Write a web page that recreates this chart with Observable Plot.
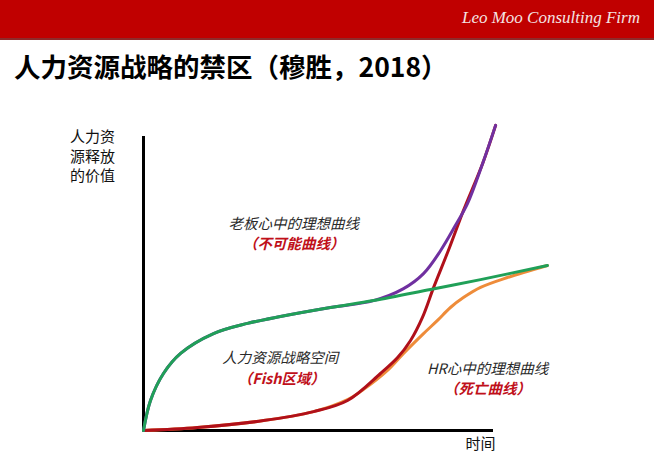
<!DOCTYPE html>
<html><head><meta charset="utf-8">
<script src="https://cdn.jsdelivr.net/npm/d3@7"></script>
<script src="https://cdn.jsdelivr.net/npm/@observablehq/plot@0.6"></script>
<style>
body{margin:0;background:#fff;width:654px;height:466px;overflow:hidden;font-family:"Noto Sans CJK SC",sans-serif;}
#bar{height:38px;background:#c00000;border-bottom:2px solid #8e2a2a;position:relative;}
#firm{position:absolute;right:14px;top:8px;font-family:"Liberation Serif",serif;font-style:italic;font-size:17px;color:#f4e4e4;}
#title{height:55px;font-size:26.5px;font-weight:bold;line-height:51px;padding-left:14px;color:#000;white-space:nowrap;}
#chart svg{display:block;}
</style>
</head>
<body>
<div id="bar"><div id="firm">Leo Moo Consulting Firm</div></div>
<div id="title">人力资源战略的禁区（穆胜，2018）</div>
<div id="chart"></div>
<script>
// Curves (time, value)
const greenT  = [0,0.2,0.57,1.06,2.0,2.97,3.91,5.34,6.57,8.2,9.63,11.54];
const greenV  = [0,1.0,1.9,2.57,3.23,3.57,3.8,4.1,4.33,4.7,5.03,5.5];
const purpleT = [0,0.2,0.57,1.06,2.0,2.97,3.91,5.34,6.57,7.43,8.0,8.49,8.91,9.26,9.69,10.06];
const purpleV = [0,1.0,1.9,2.57,3.23,3.57,3.8,4.1,4.33,4.73,5.23,6.0,6.83,7.57,8.9,10.17];
const redT    = [0,1.54,3.43,4.86,5.83,6.77,7.26,7.63,7.97,8.29,8.71,9.14,9.69,10.06];
const redV    = [0,0.1,0.33,0.63,1.0,1.9,2.43,3.0,3.77,4.77,6.0,7.33,8.9,10.17];
const orangeT = [0,1.54,3.43,4.86,5.83,6.29,6.97,7.43,8.0,8.4,8.77,9.14,9.63,10.4,11.54];
const orangeV = [0,0.1,0.33,0.63,1.03,1.37,2.0,2.57,3.23,3.67,4.1,4.43,4.77,5.1,5.5];

const yLabel = "人力资\n源释放\n的价值";
const xLabel = "时间";
const bossLabel = ["老板心中的理想曲线", "（不可能曲线）"];
const fishLabel = ["人力资源战略空间", "（Fish区域）"];
const hrLabel = ["HR心中的理想曲线", "（死亡曲线）"];

const toRows = (T, V) => T.map((t, i) => ({t, v: V[i]}));
const lineOpts = c => ({x: "t", y: "v", stroke: c, strokeWidth: 3, curve: "catmull-rom", strokeLinecap: "round"});
const note = (s, x, y, red) => Plot.text([s], {x: () => x, y: () => y, text: d => d, fontSize: 14.5,
  fontStyle: "italic", fontWeight: red ? "bold" : "normal", fill: red ? "#c0101a" : "#2a2a2a"});

const chart = Plot.plot({
  width: 654, height: 371,
  marginLeft: 143, marginRight: 161, marginTop: 35, marginBottom: 36,
  x: {domain: [0, 10], axis: null},
  y: {domain: [0, 10], axis: null},
  style: {fontFamily: '"Noto Sans CJK SC", sans-serif', background: "transparent"},
  marks: [
    Plot.ruleX([0], {y1: 0, y2: 9.8, stroke: "#000", strokeWidth: 3}),
    Plot.ruleY([0], {x1: 0, x2: 10, stroke: "#000", strokeWidth: 3}),
    Plot.line(toRows(orangeT, orangeV), lineOpts("#ee8c3a")),
    Plot.line(toRows(redT, redV), lineOpts("#b0101a")),
    Plot.line(toRows(purpleT, purpleV), lineOpts("#7030a0")),
    Plot.line(toRows(greenT, greenV), lineOpts("#20a058")),
    Plot.text([yLabel], {x: () => -1.46, y: () => 9.17, text: d => d, fontSize: 15, lineHeight: 1.27, fill: "#111"}),
    Plot.text([xLabel], {x: () => 9.63, y: () => -0.47, text: d => d, fontSize: 15, fill: "#111"}),
    note(bossLabel[0], 4.29, 6.86, false),
    note(bossLabel[1], 4.29, 6.2, true),
    note(fishLabel[0], 3.91, 2.39, false),
    note(fishLabel[1], 3.94, 1.7, true),
    note(hrLabel[0], 9.83, 2.03, false),
    note(hrLabel[1], 9.83, 1.37, true)
  ]
});
document.getElementById("chart").appendChild(chart);
</script>
</body></html>
